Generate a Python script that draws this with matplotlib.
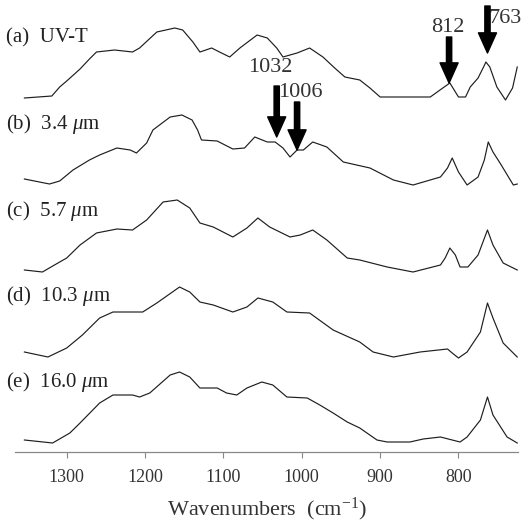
import matplotlib.pyplot as plt

plt.rcParams['font.family'] = ['Liberation Serif', 'DejaVu Serif']
plt.rcParams['mathtext.fontset'] = 'custom'
plt.rcParams['mathtext.rm'] = 'Liberation Serif'
plt.rcParams['mathtext.it'] = 'Liberation Serif:italic'

# spectra: wavenumber (cm-1) and relative absorbance (a.u.)
wn_a = [1354, 1319, 1309, 1300, 1283, 1271, 1262, 1239, 1216, 1207, 1185, 1162, 1152, 1139,
        1130, 1115, 1105, 1092, 1079, 1057, 1044, 1032, 1024, 1006, 990, 973, 958, 945, 926,
        913, 900, 875, 836, 820, 811, 800, 791, 785, 775, 768, 765, 760, 751, 740, 731, 725]
ab_a = [2, 4, 13, 19, 31, 41, 48, 50, 48, 52, 68, 72, 70, 58,
        48, 52, 48, 43, 52, 65, 62, 52, 43, 47, 52, 43, 32, 23, 20,
        12, 3, 3, 3, 12, 17, 3, 3, 13, 22, 33, 38, 33, 13, 0, 12, 33]

wn_b = [1354, 1322, 1309, 1292, 1271, 1258, 1236, 1219, 1211, 1198, 1190, 1168, 1153, 1140,
        1133, 1128, 1108, 1088, 1073, 1060, 1044, 1034, 1024, 1015, 1006, 998, 986, 968, 947,
        913, 883, 858, 823, 814, 808, 800, 789, 775, 767, 762, 756, 747, 730, 725]
ab_b = [7, 2, 5, 16, 26, 31, 38, 36, 33, 43, 56, 69, 71, 66,
        56, 46, 45, 37, 38, 49, 44, 44, 38, 29, 36, 36, 44, 39, 24,
        18, 6, 1, 9, 18, 28, 14, 1, 9, 26, 44, 34, 23, 1, 2]

wn_c = [1354, 1331, 1309, 1300, 1283, 1262, 1236, 1216, 1198, 1177, 1159, 1143, 1130, 1113,
        1088, 1070, 1056, 1041, 1015, 1002, 986, 968, 942, 926, 891, 858, 823, 817, 811,
        804, 798, 788, 775, 763, 756, 743, 725]
ab_c = [3, 1, 11, 15, 28, 40, 44, 43, 53, 71, 73, 65, 50, 46,
        36, 45, 55, 46, 36, 38, 43, 33, 15, 13, 6, 1, 8, 15, 25,
        18, 6, 6, 18, 43, 28, 10, 3]

wn_d = [1354, 1324, 1300, 1280, 1258, 1241, 1203, 1185, 1156, 1143, 1130, 1113, 1088, 1070,
        1056, 1037, 1019, 990, 960, 926, 909, 883, 849, 814, 808, 800, 789, 772, 763, 756,
        743, 725]
ab_d = [6, 1, 10, 23, 40, 46, 46, 55, 71, 66, 56, 53, 46, 51,
        60, 56, 46, 45, 28, 16, 6, 1, 6, 9, 5, 0, 6, 26, 55, 40,
        15, 1]

wn_e = [1354, 1318, 1296, 1283, 1258, 1241, 1216, 1207, 1194, 1168, 1156, 1143, 1130, 1108,
        1096, 1083, 1070, 1051, 1037, 1019, 993, 977, 960, 942, 926, 904, 891, 862, 845, 823,
        808, 798, 789, 772, 763, 756, 738, 725]
ab_e = [4, 1, 11, 21, 41, 49, 49, 47, 51, 69, 72, 67, 56, 56,
        51, 49, 56, 62, 59, 47, 46, 39, 31, 22, 16, 4, 2, 2, 5, 7,
        4, 2, 7, 24, 47, 29, 7, 1]

labels = ['(a)  UV-T', r'(b)  3.4 $\mu$m', r'(c)  5.7 $\mu$m', r'(d)  10.3 $\mu$m', r'(e)  16.0 $\mu$m']
offsets = [352, 266, 179, 94, 8]

spectra = [(wn_a, ab_a), (wn_b, ab_b), (wn_c, ab_c), (wn_d, ab_d), (wn_e, ab_e)]

fig = plt.figure(figsize=(5.23, 5.24), dpi=100)
ax = fig.add_axes([0.0287, 0.1374, 0.9618, 0.8626])

for (wn, ab), off, lab in zip(spectra, offsets, labels):
    ax.plot(wn, [v + off for v in ab], color='#1e1e1e', lw=0.85)
    ax.text(1377, off + 62, lab, fontsize=15, color='#222222', ha='left', va='center')

# peak markers
arrow_kw = dict(arrowstyle='simple,head_length=1.45,head_width=1.3,tail_width=0.38',
                fc='black', ec='black', shrinkA=0, shrinkB=0)
ax.annotate('', xy=(812, 369), xytext=(812, 415), arrowprops=arrow_kw, zorder=5)
ax.annotate('', xy=(763, 399), xytext=(763, 446), arrowprops=arrow_kw, zorder=5)
ax.annotate('', xy=(1032, 315), xytext=(1032, 366), arrowprops=arrow_kw, zorder=5)
ax.annotate('', xy=(1006, 302), xytext=(1006, 350), arrowprops=arrow_kw, zorder=5)
ax.text(814, 425, '812', fontsize=16, color='#333333', ha='center', va='center')
ax.text(762, 434, '763', fontsize=16, color='#333333', ha='left', va='center', zorder=1)
ax.text(1040, 385, '1032', fontsize=16, color='#333333', ha='center', va='center')
ax.text(1002, 360, '1006', fontsize=16, color='#333333', ha='center', va='center')

ax.set_xlim(1366, 724)
ax.set_ylim(0, 452)
for s in ['top', 'left', 'right']:
    ax.spines[s].set_visible(False)
ax.spines['bottom'].set_color('#888888')
ax.spines['bottom'].set_linewidth(0.9)
ax.set_yticks([])
ax.set_xticks([1300, 1200, 1100, 1000, 900, 800])
ax.tick_params(axis='x', direction='out', length=4, color='#888888', labelsize=13,
               labelcolor='#333333', pad=8)
ax.set_xlabel('Wavenumbers  (cm$^{-1}$)', fontsize=16, color='#333333', labelpad=7)

fig.savefig('out.png', dpi=100)
